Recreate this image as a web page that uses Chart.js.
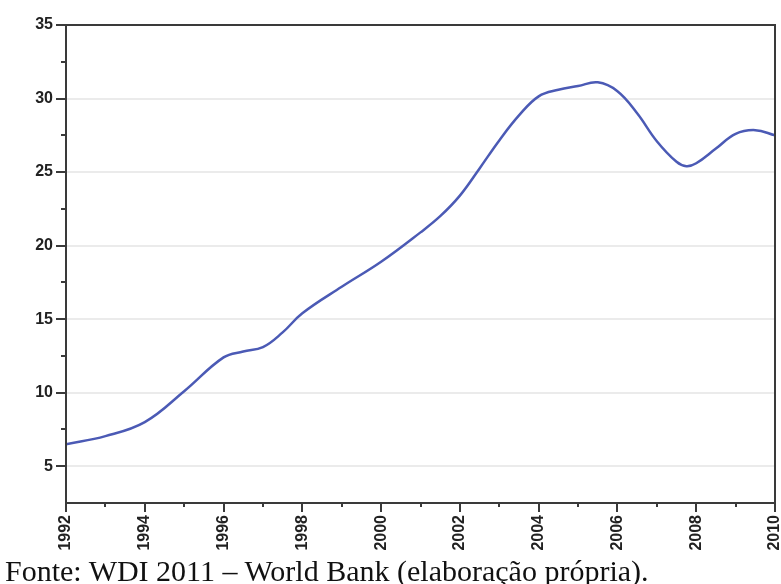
<!DOCTYPE html>
<html>
<head>
<meta charset="utf-8">
<script src="https://cdn.jsdelivr.net/npm/chart.js@4/dist/chart.umd.min.js"></script>
<style>
  body { margin:0; background:#fff; }
  #wrap { position:relative; width:781px; height:584px; }
  #caption { position:absolute; left:5px; top:556px; font-family:"Liberation Serif","Times New Roman",serif; font-size:30px; line-height:30px; color:#111; white-space:nowrap; }
</style>
</head>
<body>
<div id="wrap">
  <canvas id="c" width="781" height="584"></canvas>
  <div id="caption">Fonte: WDI 2011 – World Bank (elaboração própria).</div>
</div>
<script>
// valores (WDI 2011)
const years  = [1992, 1993, 1994, 1995, 1996, 1996.5, 1997, 1997.5, 1998, 1999, 2000, 2001, 2001.5, 2002, 2002.5, 2003, 2003.5,
                2004, 2004.5, 2005, 2005.5, 2006, 2006.5, 2007, 2007.5, 2007.75, 2008, 2008.5, 2009, 2009.5, 2010];
const values = [6.5, 7.05, 8.0, 10.1, 12.4, 12.8, 13.1, 14.1, 15.4, 17.2, 18.9, 20.9, 22.0, 23.4, 25.25, 27.15, 28.85,
                30.15, 30.6, 30.85, 31.1, 30.5, 29.0, 27.1, 25.7, 25.4, 25.6, 26.6, 27.6, 27.85, 27.5];
const xTicks = [1992, 1994, 1996, 1998, 2000, 2002, 2004, 2006, 2008, 2010];
const xMinor = [1993, 1995, 1997, 1999, 2001, 2003, 2005, 2007, 2009];
const yTicks = [5, 10, 15, 20, 25, 30, 35];
const yMinor = [7.5, 12.5, 17.5, 22.5, 27.5, 32.5];

const axisColor = '#3a3a3a';

// moldura e marcas dos eixos
const framePlugin = {
  id: 'frame',
  afterDatasetsDraw(chart) {
    const { ctx, chartArea: a, scales: { x, y } } = chart;
    ctx.save();
    ctx.strokeStyle = axisColor;
    ctx.lineWidth = 2;
    ctx.beginPath();
    ctx.rect(a.left, a.top, a.right - a.left, a.bottom - a.top);
    ctx.stroke();
    ctx.beginPath();
    yTicks.forEach(v => { const p = Math.round(y.getPixelForValue(v)); ctx.moveTo(a.left - 10, p); ctx.lineTo(a.left, p); });
    yMinor.forEach(v => { const p = Math.round(y.getPixelForValue(v)); ctx.moveTo(a.left - 5, p); ctx.lineTo(a.left, p); });
    xTicks.forEach(v => { const p = Math.round(x.getPixelForValue(v)); ctx.moveTo(p, a.bottom); ctx.lineTo(p, a.bottom + 9); });
    xMinor.forEach(v => { const p = Math.round(x.getPixelForValue(v)); ctx.moveTo(p, a.bottom); ctx.lineTo(p, a.bottom + 4); });
    ctx.stroke();
    ctx.restore();
  }
};

new Chart(document.getElementById('c'), {
  type: 'line',
  data: {
    datasets: [{
      data: years.map((yr, i) => ({ x: yr, y: values[i] })),
      borderColor: '#4b5ab5',
      borderWidth: 2.5,
      pointRadius: 0,
      tension: 0.4,
      fill: false
    }]
  },
  options: {
    responsive: false,
    devicePixelRatio: 1,
    animation: false,
    layout: { padding: { top: 25, right: 6, bottom: 31, left: 0 } },
    plugins: { legend: { display: false }, tooltip: { enabled: false } },
    scales: {
      x: {
        type: 'linear', min: 1992, max: 2010,
        afterBuildTicks: s => { s.ticks = xTicks.map(v => ({ value: v })); },
        afterFit: s => { s.height = 50; s.paddingLeft = 0; s.paddingRight = 0; },
        border: { display: false },
        grid: { display: false, drawTicks: false },
        ticks: {
          minRotation: 90, maxRotation: 90, padding: 12,
          color: '#222',
          font: { family: 'Liberation Sans, Arial, sans-serif', size: 16, weight: 'bold' },
          callback: v => String(v)
        }
      },
      y: {
        min: 2.5, max: 35,
        afterBuildTicks: s => { s.ticks = yTicks.map(v => ({ value: v })); },
        afterFit: s => { s.width = 66; s.paddingTop = 0; s.paddingBottom = 0; },
        border: { display: false },
        grid: {
          drawTicks: false, lineWidth: 2,
          color: ctx => ctx.tick && ctx.tick.value === 35 ? 'rgba(0,0,0,0)' : '#ebebeb'
        },
        ticks: {
          padding: 13,
          color: '#222',
          font: { family: 'Liberation Sans, Arial, sans-serif', size: 16, weight: 'bold' }
        }
      }
    }
  },
  plugins: [framePlugin]
});
</script>
</body>
</html>
